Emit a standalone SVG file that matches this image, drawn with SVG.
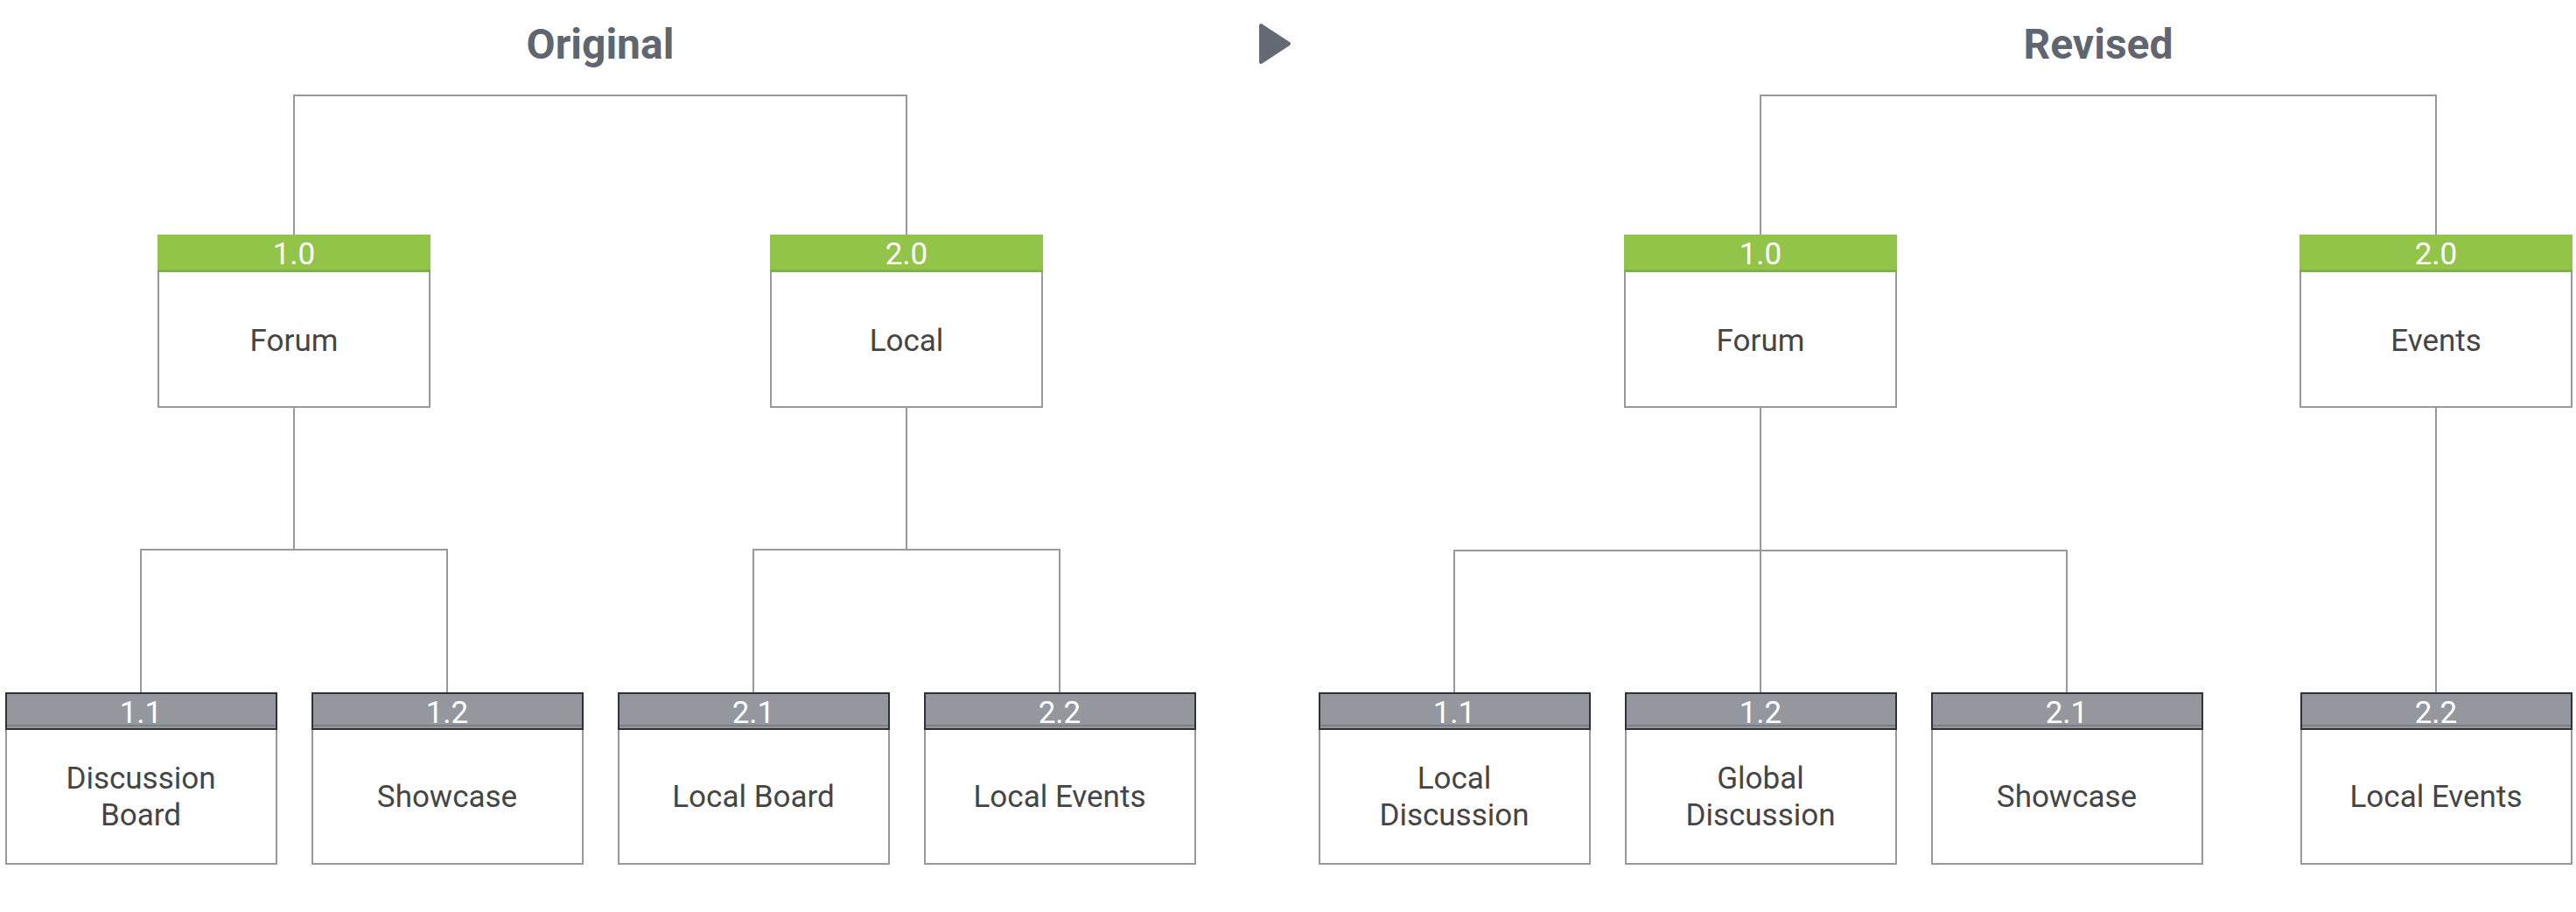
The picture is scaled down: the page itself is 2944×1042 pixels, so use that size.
<svg xmlns="http://www.w3.org/2000/svg" width="2944" height="1042" viewBox="0 0 2944 1042">
<style>
.title{font-family:Roboto,"Liberation Sans",sans-serif;font-weight:bold;font-size:48px;fill:#5f6670;text-anchor:middle}
.num{font-family:Roboto,"Liberation Sans",sans-serif;font-size:35px;fill:#ffffff;text-anchor:middle}
.lbl{font-family:Roboto,"Liberation Sans",sans-serif;font-size:35px;fill:#454545;text-anchor:middle}
.body{fill:#ffffff;stroke:#999999;stroke-width:2}
.gh{fill:#92c44a}
.ghl{stroke:#7cb342;stroke-width:3}
.dh{fill:#94989e;stroke:#2d3238;stroke-width:2}
.dhl{stroke:#7b8086;stroke-width:2}
.conn{fill:none;stroke:#999999;stroke-width:2}
</style>
<rect width="2944" height="1042" fill="#ffffff"/>
<text class="title" x="686" y="67">Original</text>
<text class="title" x="2398" y="67">Revised</text>
<polygon points="1441,29 1473,50 1441,71" fill="#636a73" stroke="#636a73" stroke-width="4" stroke-linejoin="round"/>
<g id="connectors">
<path class="conn" d="M336 269 V109 H1036 V269"/>
<path class="conn" d="M336 465 V628 M161 791 V628 H511 V791"/>
<path class="conn" d="M1036 465 V628 M861 791 V628 H1211 V791"/>
<path class="conn" d="M2012 269 V109 H2784 V269"/>
<path class="conn" d="M2012 465 V791 M1662 791 V629 H2362 V791"/>
<path class="conn" d="M2784 465 V791"/>
</g>
<g id="o-1-0">
<rect class="body" x="181" y="269" width="310" height="196"/>
<rect class="gh" x="180" y="268" width="312" height="43"/>
<line class="ghl" x1="180" y1="309.5" x2="492" y2="309.5"/>
<text class="num" x="336" y="302">1.0</text>
<text class="lbl" x="336" y="401">Forum</text>
</g>
<g id="o-2-0">
<rect class="body" x="881" y="269" width="310" height="196"/>
<rect class="gh" x="880" y="268" width="312" height="43"/>
<line class="ghl" x1="880" y1="309.5" x2="1192" y2="309.5"/>
<text class="num" x="1036" y="302">2.0</text>
<text class="lbl" x="1036" y="401">Local</text>
</g>
<g id="o-1-1">
<rect class="body" x="7" y="792" width="309" height="195"/>
<rect class="dh" x="7" y="792" width="309" height="41"/>
<line class="dhl" x1="8" y1="829" x2="315" y2="829"/>
<text class="num" x="161" y="826">1.1</text>
<text class="lbl" x="161" y="901">Discussion</text>
<text class="lbl" x="161" y="943">Board</text>
</g>
<g id="o-1-2">
<rect class="body" x="357" y="792" width="309" height="195"/>
<rect class="dh" x="357" y="792" width="309" height="41"/>
<line class="dhl" x1="358" y1="829" x2="665" y2="829"/>
<text class="num" x="511" y="826">1.2</text>
<text class="lbl" x="511" y="922">Showcase</text>
</g>
<g id="o-2-1">
<rect class="body" x="707" y="792" width="309" height="195"/>
<rect class="dh" x="707" y="792" width="309" height="41"/>
<line class="dhl" x1="708" y1="829" x2="1015" y2="829"/>
<text class="num" x="861" y="826">2.1</text>
<text class="lbl" x="861" y="922">Local Board</text>
</g>
<g id="o-2-2">
<rect class="body" x="1057" y="792" width="309" height="195"/>
<rect class="dh" x="1057" y="792" width="309" height="41"/>
<line class="dhl" x1="1058" y1="829" x2="1365" y2="829"/>
<text class="num" x="1211" y="826">2.2</text>
<text class="lbl" x="1211" y="922">Local Events</text>
</g>
<g id="r-1-0">
<rect class="body" x="1857" y="269" width="310" height="196"/>
<rect class="gh" x="1856" y="268" width="312" height="43"/>
<line class="ghl" x1="1856" y1="309.5" x2="2168" y2="309.5"/>
<text class="num" x="2012" y="302">1.0</text>
<text class="lbl" x="2012" y="401">Forum</text>
</g>
<g id="r-2-0">
<rect class="body" x="2629" y="269" width="310" height="196"/>
<rect class="gh" x="2628" y="268" width="312" height="43"/>
<line class="ghl" x1="2628" y1="309.5" x2="2940" y2="309.5"/>
<text class="num" x="2784" y="302">2.0</text>
<text class="lbl" x="2784" y="401">Events</text>
</g>
<g id="r-1-1">
<rect class="body" x="1508" y="792" width="309" height="195"/>
<rect class="dh" x="1508" y="792" width="309" height="41"/>
<line class="dhl" x1="1509" y1="829" x2="1816" y2="829"/>
<text class="num" x="1662" y="826">1.1</text>
<text class="lbl" x="1662" y="901">Local</text>
<text class="lbl" x="1662" y="943">Discussion</text>
</g>
<g id="r-1-2">
<rect class="body" x="1858" y="792" width="309" height="195"/>
<rect class="dh" x="1858" y="792" width="309" height="41"/>
<line class="dhl" x1="1859" y1="829" x2="2166" y2="829"/>
<text class="num" x="2012" y="826">1.2</text>
<text class="lbl" x="2012" y="901">Global</text>
<text class="lbl" x="2012" y="943">Discussion</text>
</g>
<g id="r-2-1">
<rect class="body" x="2208" y="792" width="309" height="195"/>
<rect class="dh" x="2208" y="792" width="309" height="41"/>
<line class="dhl" x1="2209" y1="829" x2="2516" y2="829"/>
<text class="num" x="2362" y="826">2.1</text>
<text class="lbl" x="2362" y="922">Showcase</text>
</g>
<g id="r-2-2">
<rect class="body" x="2630" y="792" width="309" height="195"/>
<rect class="dh" x="2630" y="792" width="309" height="41"/>
<line class="dhl" x1="2631" y1="829" x2="2938" y2="829"/>
<text class="num" x="2784" y="826">2.2</text>
<text class="lbl" x="2784" y="922">Local Events</text>
</g>
</svg>
